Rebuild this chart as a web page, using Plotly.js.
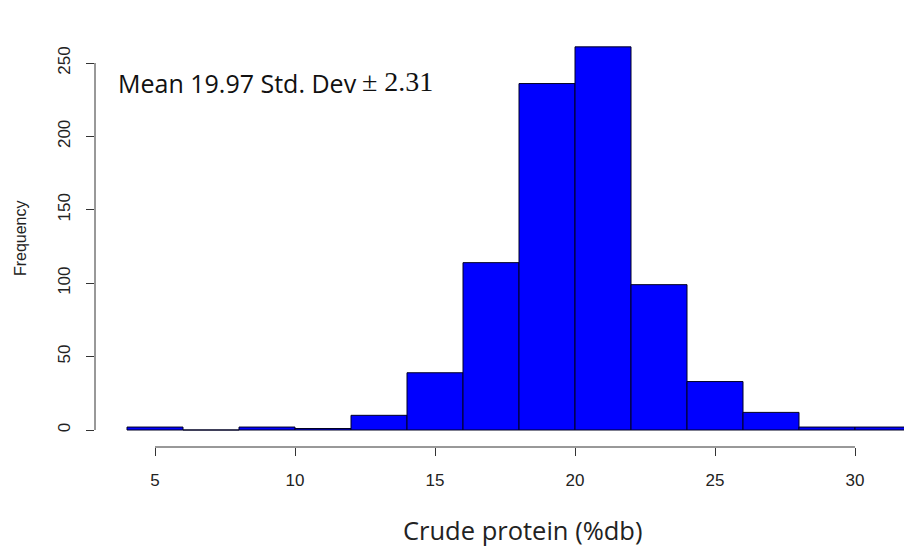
<!DOCTYPE html>
<html>
<head>
<meta charset="utf-8">
<script src="https://cdn.plot.ly/plotly-3.0.1.min.js"></script>
<style>html,body{margin:0;padding:0;background:#fff;}#chart{width:904px;height:548px;}</style>
</head>
<body>
<div id="chart"></div>
<script>
// Histogram bins (left edges, bin width 2) and counts
const binEdges = [4, 6, 8, 10, 12, 14, 16, 18, 20, 22, 24, 26, 28, 30];
const counts   = [2, 0, 2, 1, 10, 39, 114, 236, 261, 99, 33, 12, 2, 2];
const binWidth = 2;
const xTicks = [5, 10, 15, 20, 25, 30];
const yTicks = [0, 50, 100, 150, 200, 250];
const xLabel = "Crude protein (%db)";
const yLabel = "Frequency";
const statsMain = "Mean 19.97 Std. Dev";
const statsPm = "± 2.31";

const centers = binEdges.map(e => e + binWidth / 2);

const trace = {
  type: 'bar',
  x: centers,
  y: counts,
  width: binWidth,
  marker: {color: '#0000FF', line: {color: '#000022', width: 1}},
  hoverinfo: 'skip'
};

const axisColor = '#333333';
const tickFont = {family: 'Liberation Sans, Arial, sans-serif', size: 17, color: '#222'};
const layout = {
  width: 904, height: 548,
  margin: {l: 95, r: 0, t: 30, b: 101},
  paper_bgcolor: '#ffffff', plot_bgcolor: '#ffffff',
  showlegend: false,
  bargap: 0,
  xaxis: {
    range: [2.857, 31.75],
    tickmode: 'array', tickvals: xTicks, ticktext: xTicks.map(String),
    ticks: 'outside', ticklen: 8, tickwidth: 1, tickcolor: axisColor,
    showgrid: false, zeroline: false, showline: false,
    ticklabelstandoff: 10,
    tickfont: tickFont
  },
  yaxis: {
    range: [-11.58, 272.48],
    tickmode: 'array', tickvals: yTicks, ticktext: yTicks.map(String),
    ticks: 'outside', ticklen: 8, tickwidth: 1, tickcolor: axisColor,
    tickangle: -90,
    showgrid: false, zeroline: false, showline: false,
    ticklabelstandoff: 9,
    tickfont: tickFont
  },
  shapes: [
    {type: 'line', xref: 'x', yref: 'paper', x0: xTicks[0], x1: xTicks[xTicks.length - 1], y0: 0, y1: 0,
     line: {color: axisColor, width: 1}},
    {type: 'line', xref: 'paper', yref: 'y', x0: 0, x1: 0, y0: yTicks[0], y1: yTicks[yTicks.length - 1],
     line: {color: axisColor, width: 1}}
  ],
  annotations: [
    {xref: 'paper', yref: 'paper', x: 0.529, y: -0.2, yanchor: 'middle', xanchor: 'center',
     showarrow: false, text: xLabel,
     font: {family: 'Open Sans, Noto Sans, sans-serif', size: 25.5, color: '#222'}},
    {xref: 'paper', yref: 'paper', x: -0.092, y: 0.5, xanchor: 'center', yanchor: 'middle',
     textangle: -90, showarrow: false, text: yLabel,
     font: {family: 'Liberation Sans, Arial, sans-serif', size: 16, color: '#222'}},
    {xref: 'paper', yref: 'paper', x: 0.0265, y: 0.873, xanchor: 'left', yanchor: 'middle',
     showarrow: false, text: statsMain,
     font: {family: 'Open Sans, Noto Sans, sans-serif', size: 25, color: '#111'}},
    {xref: 'paper', yref: 'paper', x: 0.42, y: 0.876, xanchor: 'right', yanchor: 'middle',
     showarrow: false, text: statsPm,
     font: {family: 'Liberation Serif, Times New Roman, serif', size: 28, color: '#111'}}
  ]
};

Plotly.newPlot('chart', [trace], layout, {staticPlot: true, displayModeBar: false});
</script>
</body>
</html>
